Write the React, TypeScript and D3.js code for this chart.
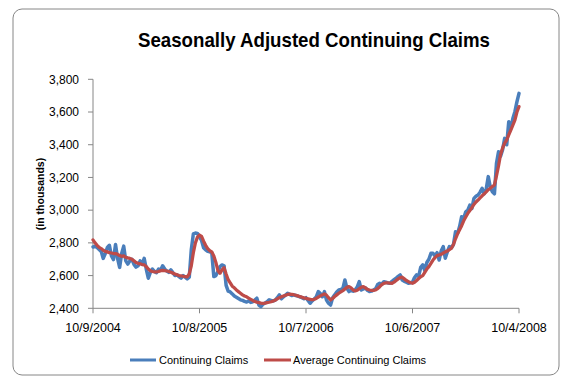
import React from "react";
import * as d3 from "d3";

const continuingClaims: number[] = [
  2775, 2778, 2772, 2760, 2748, 2705, 2735, 2772, 2785, 2720,
  2698, 2790, 2705, 2650, 2735, 2780, 2690, 2670, 2690, 2700,
  2668, 2652, 2660, 2690, 2668, 2705, 2640, 2584, 2620, 2640,
  2625, 2618, 2640, 2632, 2660, 2640, 2628, 2620, 2635, 2618,
  2600, 2605, 2594, 2584, 2600, 2590, 2580, 2590, 2760, 2855,
  2860, 2858, 2835, 2815, 2770, 2757, 2748, 2745, 2740, 2594,
  2600, 2625, 2655, 2665, 2660, 2540, 2505, 2500, 2488, 2475,
  2468, 2460, 2452, 2448, 2442, 2438, 2445, 2436, 2440, 2450,
  2462, 2420, 2410, 2425, 2432, 2440, 2452, 2448, 2445, 2450,
  2465, 2482, 2458, 2470, 2480, 2492, 2485, 2478, 2482, 2478,
  2474, 2470, 2465, 2458, 2465, 2448, 2431, 2445, 2457, 2470,
  2502, 2490, 2471, 2502, 2450, 2431, 2420, 2465, 2482, 2500,
  2512, 2515, 2522, 2573, 2522, 2502, 2510, 2505, 2512, 2530,
  2563, 2512, 2518, 2525, 2510, 2502, 2505, 2512, 2520, 2545,
  2553, 2548, 2563, 2560, 2555, 2553, 2565, 2575, 2584, 2595,
  2604, 2573, 2565, 2560, 2553, 2556, 2559, 2588, 2604, 2595,
  2650, 2665, 2630, 2680, 2700, 2736, 2736, 2720, 2740, 2695,
  2750, 2777, 2706, 2745, 2777, 2770, 2790, 2868, 2858, 2900,
  2960, 2950, 2990, 3000, 3031, 3010, 3072, 3085, 3093, 3110,
  3134, 3100, 3130, 3205, 3140, 3113, 3100, 3286, 3357, 3330,
  3370, 3439, 3400, 3541, 3500, 3560, 3602, 3663, 3714,
];

const averageClaims: number[] = [
  2818, 2800, 2785, 2772, 2765, 2755, 2748, 2745, 2740, 2738,
  2735, 2735, 2730, 2722, 2718, 2720, 2712, 2708, 2705, 2700,
  2690, 2680, 2675, 2672, 2668, 2665, 2655, 2640, 2630, 2625,
  2622, 2622, 2625, 2630, 2632, 2630, 2628, 2625, 2620, 2615,
  2610, 2605, 2600, 2598, 2596, 2594, 2592, 2610, 2660, 2740,
  2800, 2835, 2848, 2840, 2810, 2785, 2765, 2752, 2745, 2720,
  2680, 2630, 2614, 2635, 2648, 2610, 2575, 2555, 2535, 2525,
  2512, 2502, 2492, 2482, 2475, 2470, 2462, 2455, 2448, 2442,
  2438, 2435, 2432, 2430, 2432, 2435, 2437, 2440, 2445, 2450,
  2458, 2465, 2470, 2475, 2480, 2485, 2486, 2485, 2483, 2480,
  2476, 2471, 2468, 2464, 2461, 2458, 2455, 2452, 2455, 2460,
  2468, 2476, 2482, 2488, 2480, 2465, 2451, 2460, 2472, 2482,
  2492, 2500, 2508, 2518, 2528, 2533, 2525, 2512, 2506, 2510,
  2520, 2528, 2533, 2525, 2516, 2512, 2510, 2510, 2512, 2520,
  2532, 2545, 2553, 2555, 2555, 2554, 2553, 2560, 2570, 2580,
  2588, 2590, 2580, 2570, 2563, 2556, 2553, 2559, 2570, 2582,
  2593, 2600, 2620, 2640, 2655, 2675, 2695, 2710, 2722, 2726,
  2730, 2738, 2745, 2750, 2758, 2767, 2790, 2825, 2855, 2880,
  2905, 2935, 2958, 2980, 2998, 3015, 3035, 3050, 3062, 3075,
  3088, 3100, 3112, 3125, 3134, 3145, 3154, 3210, 3270, 3340,
  3380, 3410, 3429, 3460, 3490, 3520, 3551, 3600, 3633,
];

const xTickIndex: number[] = [0, 52, 104, 156, 208];
const xTickLabels: string[] = ["10/9/2004", "10/8/2005", "10/7/2006", "10/6/2007", "10/4/2008"];
const yTicks: number[] = [2400, 2600, 2800, 3000, 3200, 3400, 3600, 3800];

const title = "Seasonally Adjusted Continuing Claims";
const yTitle = "(in thousands)";
const seriesNames = ["Continuing Claims", "Average Continuing Claims"];

const W = 570;
const H = 389;
const FONT = "'Liberation Sans', Arial, sans-serif";
const AXIS = "#868686";
const BLUE = "#4A7EBB";
const RED = "#BE4B48";

export default function App() {
  const x = d3.scaleLinear().domain([0, continuingClaims.length - 1]).range([93, 519]);
  const y = d3.scaleLinear().domain([2400, 3800]).range([308.3, 79.3]);
  const line = d3
    .line<number>()
    .x((_, i) => x(i))
    .y((d) => y(d));
  const fmt = d3.format(",");

  return (
    <svg
      width={W}
      height={H}
      style={{ position: "absolute", left: 0, top: 0, background: "#fff" }}
    >
      <rect x={13} y={9} width={546} height={366} rx={9} ry={9} fill="#fff" stroke={AXIS} strokeWidth={1} />
      <text
        x={314}
        y={47}
        textAnchor="middle"
        fontFamily={FONT}
        fontWeight="bold"
        fontSize={21}
        textLength={352}
        lengthAdjust="spacingAndGlyphs"
        fill="#000"
      >
        {title}
      </text>

      {/* y axis */}
      <line x1={x(0)} x2={x(0)} y1={y(3800)} y2={y(2400)} stroke={AXIS} strokeWidth={1} />
      {yTicks.map((t) => (
        <g key={t}>
          <line x1={x(0) - 5} x2={x(0)} y1={y(t)} y2={y(t)} stroke={AXIS} strokeWidth={1} />
          <text
            x={79}
            y={y(t)}
            dy="0.35em"
            textAnchor="end"
            fontFamily={FONT}
            fontSize={12}
            fill="#000"
          >
            {fmt(t)}
          </text>
        </g>
      ))}
      <text
        transform={`translate(44,${194}) rotate(-90)`}
        textAnchor="middle"
        fontFamily={FONT}
        fontWeight="bold"
        fontSize={10.5}
        fill="#000"
      >
        {yTitle}
      </text>

      {/* x axis */}
      <line x1={x(0)} x2={x(208)} y1={y(2400)} y2={y(2400)} stroke={AXIS} strokeWidth={1} />
      {xTickIndex.map((ti, k) => (
        <g key={ti}>
          <line x1={x(ti)} x2={x(ti)} y1={y(2400)} y2={y(2400) + 5} stroke={AXIS} strokeWidth={1} />
          <text
            x={x(ti)}
            y={332}
            textAnchor="middle"
            fontFamily={FONT}
            fontSize={12.5}
            fill="#000"
          >
            {xTickLabels[k]}
          </text>
        </g>
      ))}

      <path d={line(continuingClaims) || ""} fill="none" stroke={BLUE} strokeWidth={3.5} strokeLinejoin="round" strokeLinecap="round" />
      <path d={line(averageClaims) || ""} fill="none" stroke={RED} strokeWidth={3.25} strokeLinejoin="round" strokeLinecap="round" />

      {/* legend */}
      <line x1={130} x2={156} y1={360} y2={360} stroke={BLUE} strokeWidth={3} />
      <text x={159} y={360} dy="0.35em" fontFamily={FONT} fontSize={11} fill="#000">
        {seriesNames[0]}
      </text>
      <line x1={264} x2={291} y1={360} y2={360} stroke={RED} strokeWidth={3} />
      <text x={293} y={360} dy="0.35em" fontFamily={FONT} fontSize={11} fill="#000">
        {seriesNames[1]}
      </text>
    </svg>
  );
}
